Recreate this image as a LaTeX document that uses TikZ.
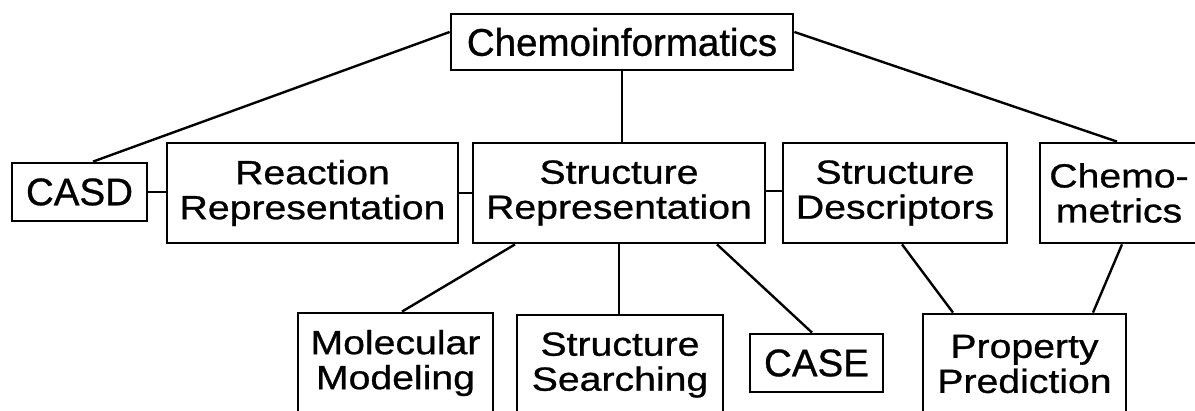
\documentclass[tikz,border=0pt]{standalone}
\usepackage{fontspec}
\setmainfont{Liberation Sans}[FakeBold=0.8]
\newfontfamily\widefont{Liberation Sans}[FakeStretch=1.17, FakeBold=0.8]
\usetikzlibrary{positioning, calc}

\begin{document}
\begin{tikzpicture}[
    x=1pt, y=-1pt,
    every node/.style={align=center, inner sep=0pt},
    onebox/.style={rectangle, draw=black, line width=2.8pt, fill=white,
                   font=\fontsize{38.5}{40}\selectfont, minimum height=58pt},
    twobox/.style={rectangle, draw=black, line width=2.8pt, fill=white,
                   font=\widefont\fontsize{33.5}{35}\selectfont, minimum height=100pt},
    link/.style={line width=2.4pt, color=black}
]

\useasboundingbox (0,0) rectangle (1195,411);
\clip (0,0) rectangle (1195,411);

% Nodes
\node[onebox, minimum width=342pt, minimum height=56pt] (chemo) at (622,42) {Chemoinformatics};

\node[onebox, minimum width=135pt] (casd) at (79.5,192) {CASD};
\node[twobox, minimum width=291pt] (reaction) at (312.5,193) {Reaction\\Representation};
\node[twobox, minimum width=292pt] (structrep) at (619,193) {Structure\\Representation};
\node[twobox, minimum width=224pt] (descr) at (895,193) {Structure\\Descriptors};
\node[twobox, minimum width=158pt] (chemom) at (1119,193) {Chemo-\\metrics};

\node[twobox, minimum width=195pt] (molmod) at (395.5,363) {Molecular\\Modeling};
\node[twobox, minimum width=206pt] (search) at (620,365) {Structure\\Searching};
\node[onebox, minimum width=133pt] (casebox) at (816.5,363) {CASE};
\node[twobox, minimum width=203pt] (prop) at (1024.5,364) {Property\\Prediction};

% Lines
\draw[link] ([yshift=10pt]chemo.west) -- ([xshift=13.5pt]casd.north);
\draw[link] ([yshift=10pt]chemo.east) -- ([xshift=-2pt]chemom.north);
\draw[link] (chemo.south) -- (chemo.south |- structrep.north);
\draw[link] (casd.east) -- (casd.east -| reaction.west);
\draw[link] (reaction.east) -- (structrep.west);
\draw[link] ([yshift=2pt]structrep.east) -- ([yshift=2pt]descr.west);
\draw[link] ([xshift=-104pt]structrep.south) -- ([xshift=6.5pt]molmod.north);
\draw[link] (structrep.south) -- (structrep.south |- search.north);
\draw[link] ([xshift=98pt]structrep.south) -- ([xshift=-4.5pt]casebox.north);
\draw[link] ([xshift=7pt]descr.south) -- ([xshift=-71.5pt]prop.north);
\draw[link] ([xshift=3pt]chemom.south) -- ([xshift=68.5pt]prop.north);

\end{tikzpicture}
\end{document}
